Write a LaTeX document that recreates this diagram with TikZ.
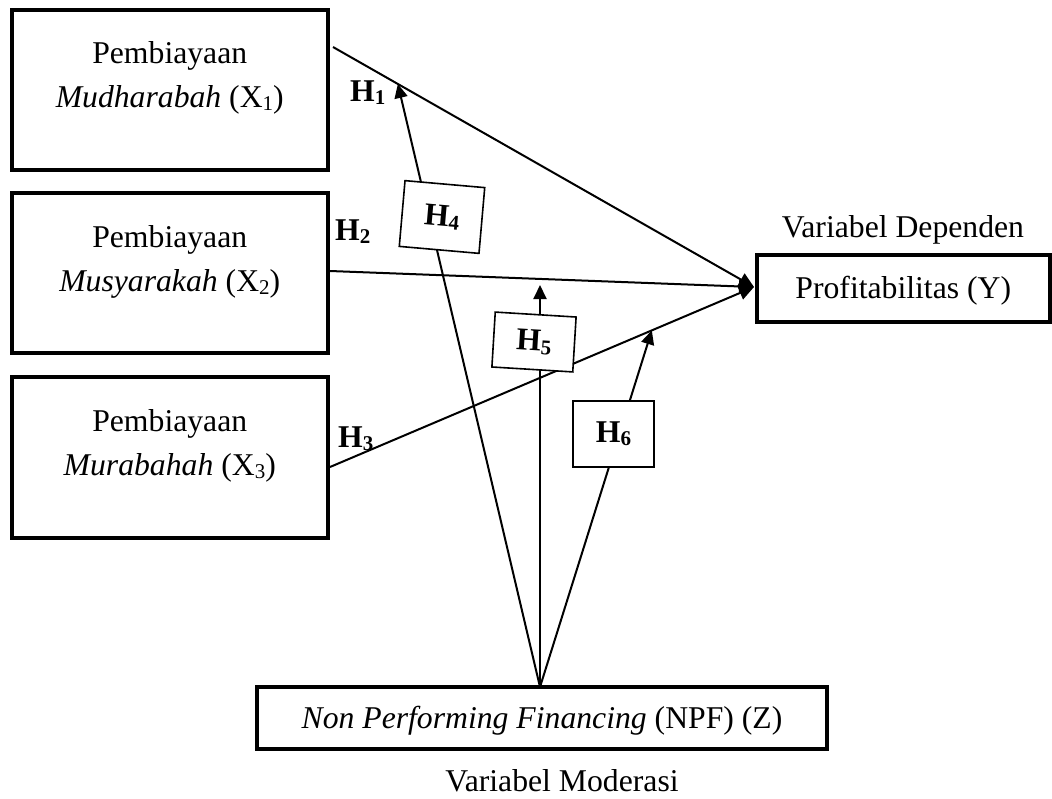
\documentclass[tikz,border=0pt]{standalone}
\usepackage{fontspec}
\setmainfont{Liberation Serif}
\usetikzlibrary{arrows.meta,calc}
\newcommand{\sbs}[1]{\raisebox{-3pt}{\fontsize{21}{21}\selectfont #1}}
\newcommand{\twoline}[2]{\begin{tabular}[t]{@{}c@{}}#1\\#2\end{tabular}}
\begin{document}
\begin{tikzpicture}[x=1pt,y=-1pt,
  every node/.style={font=\fontsize{31.7}{44}\selectfont, inner sep=0pt},
  bigbox/.style={draw, line width=4pt, rectangle, fill=white, outer sep=0pt},
  hbox/.style={draw, line width=1.6pt, rectangle, fill=white, minimum width=80pt},
  link/.style={line width=2pt, -{Triangle[length=15pt,width=14pt]}},
  modlink/.style={line width=2pt, -{Triangle[length=14pt,width=13pt]}},
  boxtext/.style={text height=22pt, text depth=2pt}
]
\useasboundingbox (0,0) rectangle (1052,798);

% independent variable boxes
\node[bigbox, minimum width=315.5pt, minimum height=160pt] (x1) at (169.75,89.5) {};
\node[bigbox, minimum width=315.5pt, minimum height=160pt] (x2) at (169.75,273) {};
\node[bigbox, minimum width=315.5pt, minimum height=161pt] (x3) at (169.75,457.5) {};
\node[anchor=base] (x1t) at ($(x1.north)+(0,54)$) {\twoline{Pembiayaan}{\textit{Mudharabah} (X\sbs{1})}};
\node[anchor=base] (x2t) at ($(x2.north)+(0,54)$) {\twoline{Pembiayaan}{\textit{Musyarakah} (X\sbs{2})}};
\node[anchor=base] (x3t) at ($(x3.north)+(0,54)$) {\twoline{Pembiayaan}{\textit{Murabahah} (X\sbs{3})}};

% dependent and moderating variable boxes
\node[bigbox, boxtext, minimum width=292.5pt, minimum height=67pt] (y) at (903.25,288.5) {Profitabilitas (Y)};
\node[bigbox, boxtext, minimum width=570pt, minimum height=62pt] (npf) at (542,718) {\textit{Non Performing Financing} (NPF) (Z)};
\node[anchor=base] (dep) at (903,237) {Variabel Dependen};
\node[anchor=base] (mod) at (562,791) {Variabel Moderasi};

% connector ends
\coordinate (s1) at ($(x1.east)+(5.5,-42.5)$);
\coordinate (s2) at ($(x2.east)+(2.5,-2)$);
\coordinate (s3) at ($(x3.east)+(2.5,9.5)$);
\coordinate (yin) at ($(y.west)+(-3,-1.5)$);
\coordinate (src) at ($(npf.north)+(-2,0)$);
\coordinate (t4) at ($(s1)!0.154!(yin)$);
\coordinate (t5) at (540,285);
\coordinate (t6) at ($(s3)!0.759!(yin)$);

% direct effects
\draw[link] (s1) -- (yin);
\draw[link] (s2) -- (yin);
\draw[link] (s3) -- (yin);

% moderating effects
\draw[modlink] (src) -- (t4);
\draw[modlink] (src) -- (t5);
\draw[modlink] (src) -- (t6);

% hypothesis boxes
\node[hbox, minimum height=66pt, rotate=-5] (h4) at (442,217) {\textbf{H\sbs{4}}};
\node[hbox, minimum height=55pt, minimum width=81pt, rotate=-3.5] (h5) at (534,342) {\textbf{H\sbs{5}}};
\node[hbox, minimum height=66pt, minimum width=81pt] (h6) at (613.5,434) {\textbf{H\sbs{6}}};

% hypothesis labels
\node[anchor=base west] (h1) at (350,101.7) {\textbf{H\sbs{1}}};
\node[anchor=base west] (h2) at (335,240) {\textbf{H\sbs{2}}};
\node[anchor=base west] (h3) at (338,447) {\textbf{H\sbs{3}}};
\end{tikzpicture}
\end{document}
